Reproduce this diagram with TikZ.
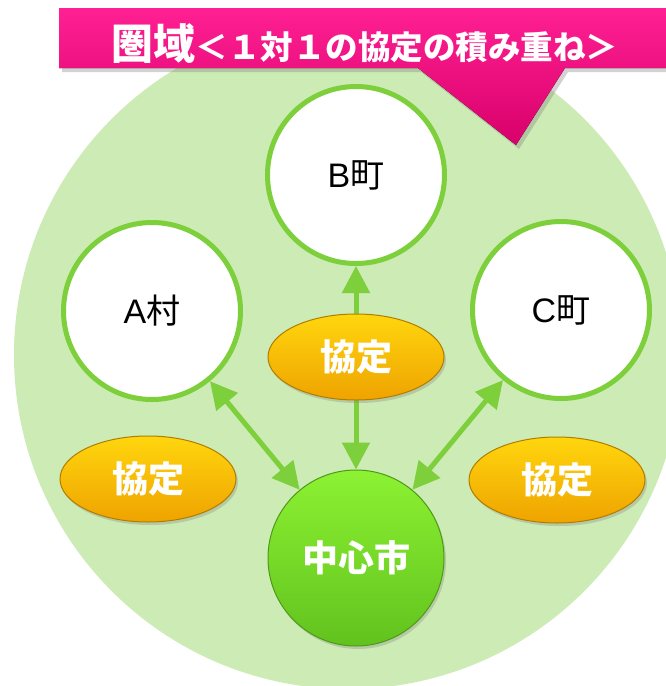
\documentclass[tikz,border=0pt]{standalone}
\usepackage{fontspec}
\setmainfont{Noto Sans CJK JP}
\newfontfamily\latin{Liberation Sans}
\usetikzlibrary{arrows.meta,shapes.geometric,shadows}
\definecolor{bggreen}{HTML}{CDEBB4}
\definecolor{linegreen}{HTML}{7DD03B}
\definecolor{pinktop}{HTML}{FF2093}
\definecolor{pinkbot}{HTML}{D8006A}
\definecolor{ytop}{HTML}{FFD60E}
\definecolor{ybot}{HTML}{EFA300}
\definecolor{yborder}{HTML}{B07D00}
\definecolor{gtop}{HTML}{8CF232}
\definecolor{gbot}{HTML}{62C21E}
\definecolor{gborder}{HTML}{4E9A18}
\begin{document}
\begin{tikzpicture}[x=1pt,y=-1pt,
  townnode/.style={circle, minimum size=177pt, inner sep=0pt, fill=white, draw=linegreen, line width=5pt,
    font=\fontsize{34}{34}\selectfont, text=black},
  citynode/.style={circle, minimum size=176pt, inner sep=0pt, top color=gtop, bottom color=gbot,
    draw=gborder, line width=1pt, text=white, font=\bfseries\fontsize{36}{36}\selectfont,
    drop shadow={shadow xshift=2pt, shadow yshift=-3pt, opacity=0.3}},
  kyotei/.style={ellipse, minimum width=176pt, minimum height=86pt, inner sep=0pt, top color=ytop,
    bottom color=ybot, draw=yborder, line width=1pt, text=white, font=\bfseries\fontsize{36}{36}\selectfont,
    drop shadow={shadow xshift=2pt, shadow yshift=-3pt, opacity=0.3}},
  conn/.style={draw=linegreen, line width=5pt,
    {Triangle[length=27pt,width=27pt]}-{Triangle[length=27pt,width=27pt]}},
  banner/.style={top color=pinktop, bottom color=pinkbot,
    drop shadow={shadow xshift=3pt, shadow yshift=-4pt, opacity=0.35}}
]
\clip (0,0) rectangle (666,686);
\fill[white] (0,0) rectangle (666,686);
\fill[bggreen] (348,355) circle (334pt);

\node[townnode] (A) at (152,311) {{\latin A}村};
\node[townnode] (B) at (356,175) {{\latin B}町};
\node[townnode] (C) at (561,310) {{\latin C}町};
\node[citynode] (M) at (356,558) {中心市};

\draw[conn] (A) -- (M);
\draw[conn] (C) -- (M);
\draw[conn] (B) -- (M);

\node[kyotei] (K2) at (356,357) {協定};
\node[kyotei] (K1) at (148,479) {協定};
\node[kyotei] (K3) at (557,480) {協定};

\fill[banner] (59,8) -- (690,8) -- (690,68) -- (565,68) -- (516,145) -- (418,68) -- (59,68) -- cycle;
\node[text=white, font=\bfseries\fontsize{32.5}{33}\selectfont, inner sep=0pt] (title) at (365,44)
  {{\fontsize{42}{42}\selectfont 圏域}＜１対１の協定の積み重ね＞};
\end{tikzpicture}
\end{document}
